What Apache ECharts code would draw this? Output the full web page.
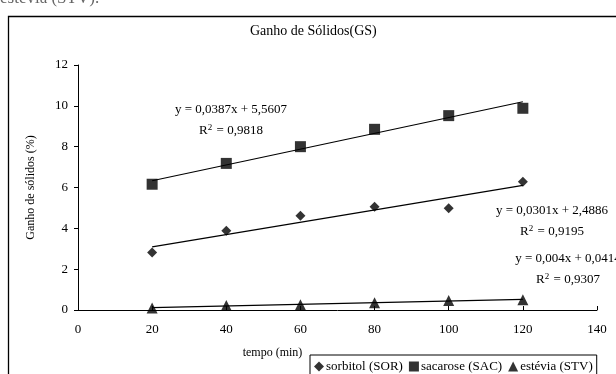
<!DOCTYPE html>
<html>
<head>
<meta charset="utf-8">
<style>
  html, body { margin: 0; padding: 0; background: #fff; }
  #myChart { width: 616px; height: 374px; }
</style>
<script src="https://cdn.jsdelivr.net/npm/echarts@6/dist/echarts.min.js"></script>
</head>
<body>
<div id="myChart"></div>
<script>
// tempo (min)
var tempo = [20, 40, 60, 80, 100, 120]
// ganho de sólidos (%)
var sorbitol = [2.82, 3.88, 4.62, 5.06, 4.98, 6.28]
var sacarose = [6.16, 7.18, 8.0, 8.85, 9.52, 9.88]
var estevia = [0.1, 0.22, 0.26, 0.35, 0.46, 0.5]
// extremos das retas de tendência (x = 20 e x = 120)
var trendX = [20, 120]
var trendSOR = [3.09, 6.10]
var trendSAC = [6.33, 10.2]
var trendSTV = [0.12, 0.52]

var serif = 'Liberation Serif'

function pairs(xs, ys) {
  let out = []
  for (let i = 0; i < xs.length; i++) {
    out.push([xs[i], ys[i]])
  }
  return out
}

// equação + R² (centrados em x)
function eqText(x, y, eq, r2) {
  return [
    {
      type: 'text',
      x: x,
      y: y,
      style: { text: eq, font: '13px ' + serif, fill: '#000', align: 'center', verticalAlign: 'middle' },
    },
    {
      type: 'text',
      x: x,
      y: y + 21,
      style: {
        text: '{r|R}{sup|2}{r| = ' + r2 + '}',
        fill: '#000',
        align: 'center',
        verticalAlign: 'middle',
        rich: {
          r: { fontFamily: serif, fontSize: 13, color: '#000', lineHeight: 15 },
          sup: { fontFamily: serif, fontSize: 9, color: '#000', lineHeight: 15, verticalAlign: 'top', padding: [0, 1, 9, 0] },
        },
      },
    },
  ]
}

let myChart = echarts.init(document.getElementById('myChart'))
myChart.setOption({
  animation: false,
  textStyle: { fontFamily: serif, color: '#000' },
  title: {
    text: 'Ganho de Sólidos(GS)',
    left: 250,
    top: 24,
    padding: 0,
    textStyle: { fontFamily: serif, fontSize: 14, fontWeight: 'normal', color: '#000' },
  },
  grid: { left: 78, top: 65, width: 519, height: 245 },
  legend: {
    left: 310,
    top: 355,
    borderColor: '#000',
    borderWidth: 1,
    padding: [5, 4, 8, 4],
    itemGap: 6,
    itemWidth: 10,
    itemHeight: 10,
    textStyle: { fontFamily: serif, fontSize: 13, color: '#000', padding: [0, 0, 0, -3] },
    data: [
      { name: 'sorbitol (SOR)', icon: 'diamond' },
      { name: 'sacarose (SAC)', icon: 'rect' },
      { name: 'estévia (STV)', icon: 'triangle' },
    ],
  },
  xAxis: {
    type: 'value',
    min: 0,
    max: 140,
    interval: 20,
    name: 'tempo (min)',
    nameLocation: 'middle',
    nameGap: 37,
    nameTextStyle: { fontFamily: serif, fontSize: 12, color: '#000', padding: [0, 130, 0, 0] },
    splitLine: { show: false },
    axisLine: { onZero: false, lineStyle: { color: '#000', width: 1 } },
    axisTick: { inside: true, length: 4, lineStyle: { color: '#000' } },
    axisLabel: { fontFamily: serif, fontSize: 13, color: '#000', margin: 13 },
  },
  yAxis: {
    type: 'value',
    min: 0,
    max: 12,
    interval: 2,
    name: 'Ganho de sólidos (%)',
    nameLocation: 'middle',
    nameGap: 41,
    nameTextStyle: { fontFamily: serif, fontSize: 12, color: '#000' },
    splitLine: { show: false },
    axisLine: { show: true, lineStyle: { color: '#000', width: 1 } },
    axisTick: { show: true, length: 4, lineStyle: { color: '#000' } },
    axisLabel: { fontFamily: serif, fontSize: 13, color: '#000', margin: 10 },
  },
  graphic: [
    // moldura externa do gráfico
    {
      type: 'rect',
      shape: { x: 8.5, y: 16.5, width: 700, height: 420 },
      style: { fill: 'none', stroke: '#000', lineWidth: 1.3 },
      z: -1,
    },
    // legenda cortada da página original
    {
      type: 'text',
      left: 0,
      top: -10,
      style: { text: 'estévia (STV).', font: '17px ' + serif, fill: '#666' },
    },
  ]
    .concat(eqText(231, 110, 'y = 0,0387x + 5,5607', '0,9818'))
    .concat(eqText(552, 211, 'y = 0,0301x + 2,4886', '0,9195'))
    .concat(eqText(568, 259, 'y = 0,004x + 0,0414', '0,9307')),
  series: [
    {
      name: 'sorbitol (SOR)',
      type: 'scatter',
      symbol: 'diamond',
      symbolSize: 10,
      itemStyle: { color: '#000' },
      data: pairs(tempo, sorbitol),
    },
    {
      name: 'sacarose (SAC)',
      type: 'scatter',
      symbol: 'rect',
      symbolSize: 11,
      itemStyle: { color: '#000' },
      data: pairs(tempo, sacarose),
    },
    {
      name: 'estévia (STV)',
      type: 'scatter',
      symbol: 'triangle',
      symbolSize: 11,
      itemStyle: { color: '#000' },
      data: pairs(tempo, estevia),
    },
    {
      name: 'tend SOR',
      type: 'line',
      showSymbol: false,
      lineStyle: { color: '#000', width: 1.2 },
      data: pairs(trendX, trendSOR),
      z: 1,
    },
    {
      name: 'tend SAC',
      type: 'line',
      showSymbol: false,
      lineStyle: { color: '#000', width: 1.2 },
      data: pairs(trendX, trendSAC),
      z: 1,
    },
    {
      name: 'tend STV',
      type: 'line',
      showSymbol: false,
      lineStyle: { color: '#000', width: 1.2 },
      data: pairs(trendX, trendSTV),
      z: 1,
    },
  ],
})
</script>
</body>
</html>
